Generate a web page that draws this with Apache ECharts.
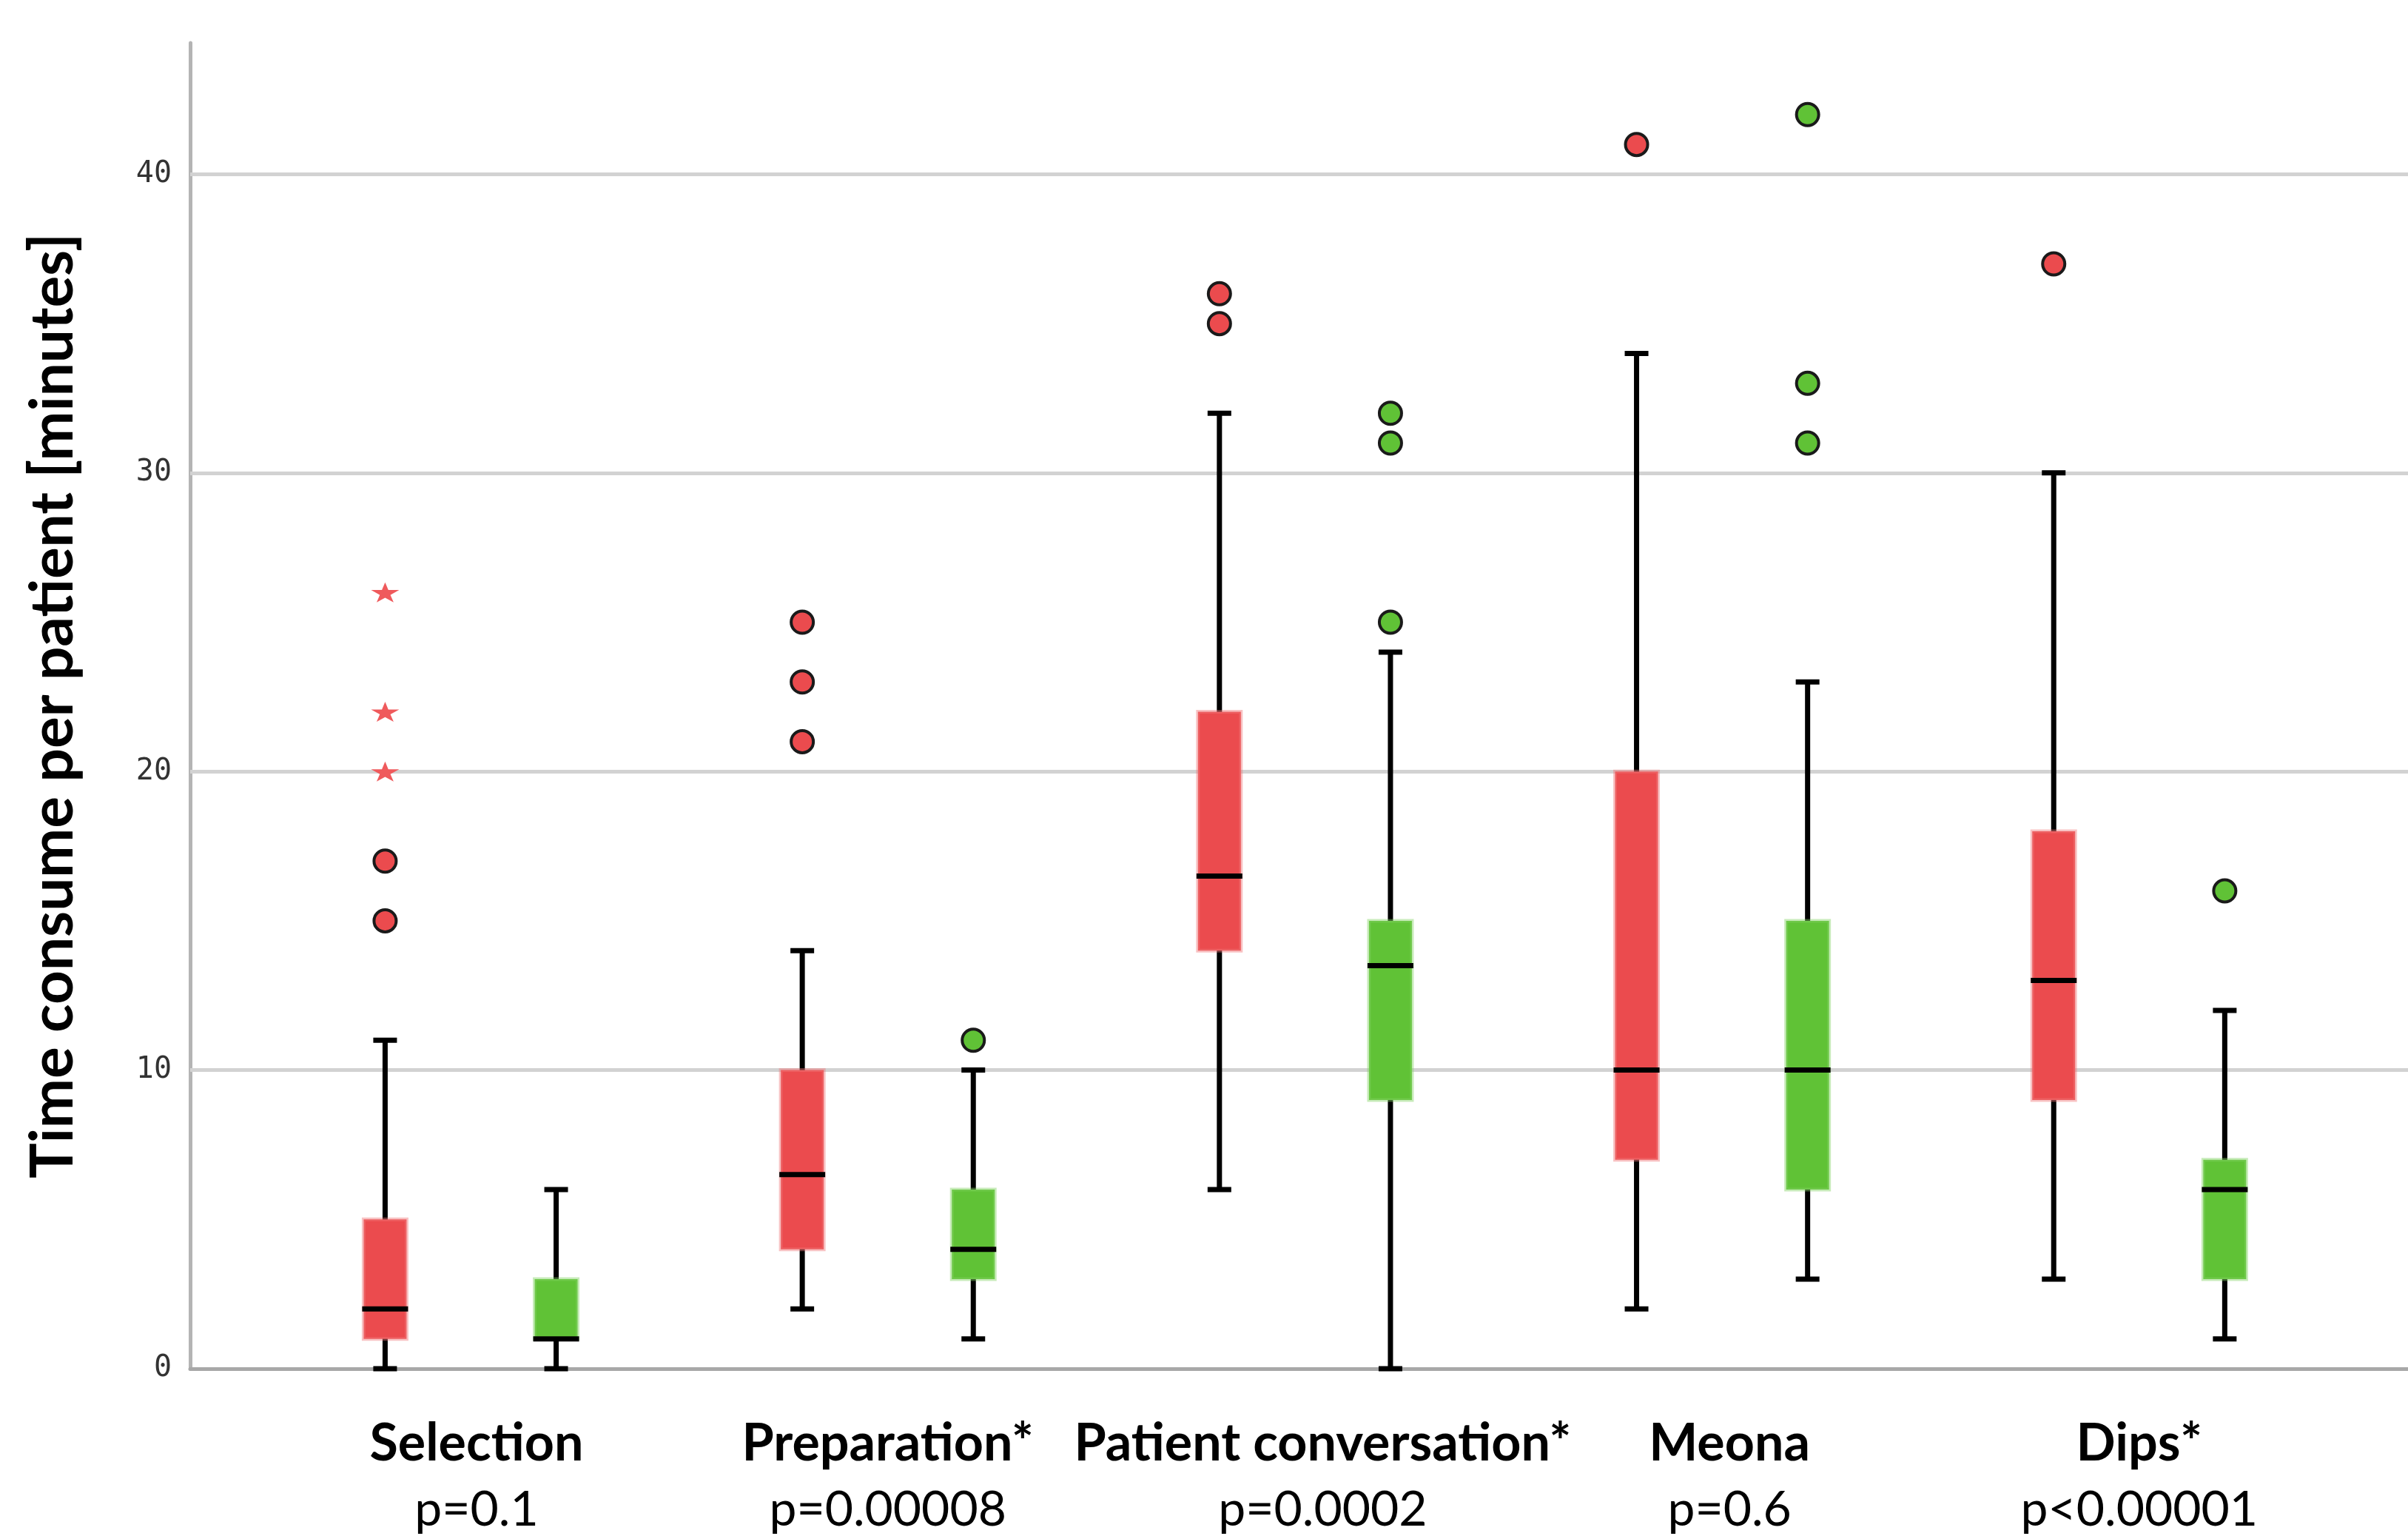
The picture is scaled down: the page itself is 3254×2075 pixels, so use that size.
<!DOCTYPE html>
<html><head><meta charset="utf-8">
<script src="https://cdn.jsdelivr.net/npm/echarts@6/dist/echarts.min.js"></script>
<style>html,body{margin:0;padding:0;background:#fff}#c{width:3254px;height:2075px}</style>
</head><body><div id="c"></div>
<script>
const categories = ['Selection', 'Preparation*', 'Patient conversation*', 'Meona', 'Dips*'];
const pValues = ['p=0.1', 'p=0.00008', 'p=0.0002', 'p=0.6', 'p<0.00001'];
// [min, Q1, median, Q3, max]
const redBoxes = [[0, 1, 2, 5, 11], [2, 4, 6.5, 10, 14], [6, 14, 16.5, 22, 32], [2, 7, 10, 20, 34], [3, 9, 13, 18, 30]];
const greenBoxes = [[0, 1, 1, 3, 6], [1, 3, 4, 6, 10], [0, 9, 13.5, 15, 24], [3, 6, 10, 15, 23], [1, 3, 6, 7, 12]];
const redOutliers = [[17, 15], [25, 23, 21], [36, 35], [41], [37]];
const greenOutliers = [[], [11], [32, 31, 25], [42, 33, 31], [16]];
const redExtremes = [[26, 22, 20], [], [], [], []];
const yTicks = [0, 10, 20, 30, 40];
const gridTicks = [10, 20, 30, 40];
const yMax = 44.4;

const OFF = 0.205;          // half distance between the two boxes of a pair (in category units)
const X_MIN = -0.6723, X_MAX = 4.6443;
const RED = '#EB4B4E', GREEN = '#60C236';
const labelPad = [16, 0, 48, 20, 0]; // small horizontal nudges of the category labels

function boxData(arr, shift) { return arr.map((b, i) => [i + shift].concat(b)); }
function pointData(arr, shift) {
  const out = [];
  arr.forEach((vals, i) => vals.forEach(v => out.push([i + shift, v])));
  return out;
}
function renderBox(color, halo) {
  return function (params, api) {
    const x = api.value(0);
    const lo = api.coord([x, api.value(1)]);
    const q1 = api.coord([x, api.value(2)]);
    const md = api.coord([x, api.value(3)]);
    const q3 = api.coord([x, api.value(4)]);
    const hi = api.coord([x, api.value(5)]);
    const bw = 58, cw = 32, cx = lo[0];
    const ls = { stroke: '#000', lineWidth: 7 };
    return {
      type: 'group', children: [
        { type: 'line', shape: { x1: cx, y1: hi[1], x2: cx, y2: lo[1] }, style: ls },
        { type: 'line', shape: { x1: cx - cw / 2, y1: hi[1], x2: cx + cw / 2, y2: hi[1] }, style: ls },
        { type: 'line', shape: { x1: cx - cw / 2, y1: lo[1], x2: cx + cw / 2, y2: lo[1] }, style: ls },
        { type: 'rect', shape: { x: cx - bw / 2, y: q3[1], width: bw, height: q1[1] - q3[1] }, style: { fill: color, stroke: halo, lineWidth: 5 } },
        { type: 'line', shape: { x1: cx - bw / 2 - 2, y1: md[1], x2: cx + bw / 2 + 2, y2: md[1] }, style: { stroke: '#000', lineWidth: 7 } }
      ]
    };
  };
}
const starPath = 'path://M50,0 L61,35 L98,35 L68,57 L79,91 L50,70 L21,91 L32,57 L2,35 L39,35 Z';

const rich = {};
labelPad.forEach((p, i) => {
  rich['b' + i] = { fontFamily: 'Lato', fontWeight: 'bold', fontSize: 70, lineHeight: 90, color: '#000', padding: [0, 0, 0, p] };
  rich['p' + i] = { fontFamily: 'Lato', fontSize: 66, lineHeight: 90, color: '#000', padding: [0, 0, 0, p] };
});

const chart = echarts.init(document.getElementById('c'), null, { renderer: 'canvas' });
chart.setOption({
  animation: false,
  backgroundColor: '#fff',
  grid: { left: 257, right: 0, top: 58, bottom: 226, containLabel: false },
  xAxis: {
    type: 'value', min: X_MIN, max: X_MAX,
    axisLine: { show: true, onZero: false, lineStyle: { color: '#a8a8a8', width: 5 } },
    axisTick: { show: false }, splitLine: { show: false },
    axisLabel: {
      customValues: [0, 1, 2, 3, 4],
      margin: 56,
      formatter: function (v) { const i = Math.round(v); return '{b' + i + '|' + categories[i] + '}\n{p' + i + '|' + pValues[i] + '}'; },
      rich: rich
    }
  },
  yAxis: {
    type: 'value', min: 0, max: yMax, interval: 10,
    name: 'Time consume per patient [minutes]', nameLocation: 'middle', nameGap: 145, nameRotate: 90,
    nameTextStyle: { fontFamily: 'Lato', fontWeight: 'bold', fontSize: 80, color: '#000' },
    axisLine: { show: true, onZero: false, lineStyle: { color: '#b4b4b4', width: 5 } },
    axisTick: { show: false }, splitLine: { show: false },
    axisLabel: { customValues: yTicks, margin: 25, fontFamily: 'DejaVu Sans Mono', fontSize: 40, color: '#333' }
  },
  series: [
    {
      type: 'custom', name: 'red', z: 3, renderItem: renderBox(RED, 'rgba(240,120,122,0.45)'),
      encode: { x: 0, y: [1, 2, 3, 4, 5] }, data: boxData(redBoxes, -OFF),
      markLine: {
        z: 1, silent: true, symbol: 'none', label: { show: false },
        lineStyle: { color: '#d2d2d2', width: 5, type: 'solid' },
        data: gridTicks.map(v => ({ yAxis: v }))
      }
    },
    {
      type: 'custom', name: 'green', z: 3, renderItem: renderBox(GREEN, 'rgba(130,210,100,0.45)'),
      encode: { x: 0, y: [1, 2, 3, 4, 5] }, data: boxData(greenBoxes, OFF)
    },
    {
      type: 'scatter', z: 4, symbol: 'circle', symbolSize: 30,
      itemStyle: { color: RED, borderColor: '#1a1a1a', borderWidth: 4, opacity: 1 },
      data: pointData(redOutliers, -OFF)
    },
    {
      type: 'scatter', z: 4, symbol: 'circle', symbolSize: 30,
      itemStyle: { color: GREEN, borderColor: '#1a1a1a', borderWidth: 4, opacity: 1 },
      data: pointData(greenOutliers, OFF)
    },
    {
      type: 'scatter', z: 4, symbol: starPath, symbolSize: [38, 27],
      itemStyle: { color: '#EF5A5C', opacity: 1 },
      data: pointData(redExtremes, -OFF)
    }
  ]
});
</script>
</body></html>
